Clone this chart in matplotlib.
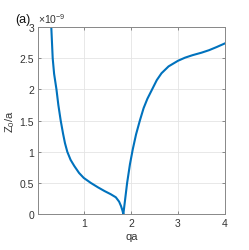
import numpy as np
import matplotlib
matplotlib.use('Agg')
import matplotlib.pyplot as plt

plt.rcParams['font.family'] = ['Liberation Sans', 'DejaVu Sans']
plt.rcParams['mathtext.fontset'] = 'custom'
plt.rcParams['mathtext.rm'] = 'Liberation Sans'

# values, Z0/a in units of 1e-9
qa = [0.31, 0.34, 0.37, 0.42, 0.46, 0.51, 0.56, 0.60, 0.65, 0.72, 0.80, 0.90, 1.0,
      1.15, 1.3, 1.44, 1.57, 1.68, 1.75, 1.79, 1.82, 1.84,
      1.88, 1.92, 1.98, 2.04, 2.11, 2.19, 2.27, 2.35, 2.45, 2.55, 2.65, 2.8,
      3.0, 3.15, 3.31, 3.5, 3.66, 3.82, 4.0]
z0 = [3.0, 2.5, 2.25, 2.0, 1.75, 1.5, 1.29, 1.14, 1.0, 0.87, 0.77, 0.66, 0.58,
      0.50, 0.43, 0.37, 0.32, 0.27, 0.20, 0.13, 0.06, 0.0,
      0.25, 0.5, 0.8, 1.04, 1.28, 1.5, 1.70, 1.85, 2.0, 2.15, 2.26, 2.37,
      2.46, 2.51, 2.55, 2.59, 2.63, 2.68, 2.74]
xticks = [1, 2, 3, 4]
yticks = [0, 0.5, 1, 1.5, 2, 2.5, 3]
yticklabels = ['0', '0.5', '1', '1.5', '2', '2.5', '3']

txt = '#333333'
fig = plt.figure(figsize=(2.49, 2.51), dpi=100)
ax = fig.add_axes([0.153, 0.143, 0.751, 0.745])
ax.plot(qa, z0, color='#0072BD', lw=1.5, solid_joinstyle='round')
ax.set_xlim(0.03, 4)
ax.set_ylim(0, 3)
ax.set_xticks(xticks)
ax.set_yticks(yticks)
ax.set_yticklabels(yticklabels)
ax.grid(True, color='#e4e4e4', lw=0.6)
ax.set_axisbelow(True)
ax.tick_params(direction='in', length=2.5, width=0.6, colors='#777777',
               labelcolor=txt, labelsize=7.5, top=True, right=True, pad=3)
for s in ax.spines.values():
    s.set_color('#888888')
    s.set_linewidth(0.7)
ax.set_xlabel('qa', fontsize=8, color=txt, labelpad=2)
ax.set_ylabel('Z$_0$/a', fontsize=8, color=txt, labelpad=2)
ax.text(0.0, 1.01, r'$\times10^{-9}$', transform=ax.transAxes, fontsize=7.5,
        color=txt, ha='left', va='bottom')
fig.text(0.06, 0.92, '(a)', fontsize=9, color='#111111', ha='left', va='center')

fig.savefig('out.png', dpi=100)
